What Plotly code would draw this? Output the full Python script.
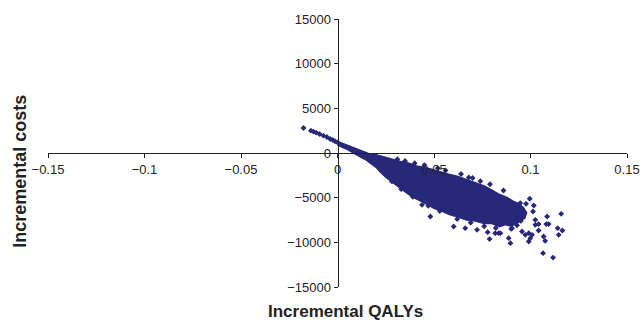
import plotly.graph_objects as go

NAVY = "#27287a"

# Dense core of the simulation cloud (outline)
core_x = [0.000, 0.004, 0.008, 0.012, 0.016, 0.020, 0.024, 0.028, 0.0325, 0.037, 0.041, 0.046, 0.050, 0.054, 0.058,
          0.062, 0.067, 0.071, 0.076, 0.080, 0.084, 0.088, 0.091, 0.094, 0.0965, 0.098, 0.097, 0.094,
          0.090, 0.087, 0.084, 0.080, 0.076, 0.071, 0.067, 0.062, 0.058, 0.054, 0.050, 0.046, 0.043,
          0.039, 0.036, 0.033, 0.030, 0.027, 0.025, 0.022, 0.020, 0.017, 0.015, 0.012, 0.010, 0.007, 0.005, 0.002, 0.000]
core_y = [1300, 950, 600, 250, -50, -200, -450, -650, -950, -1150, -1450, -1650, -1870, -2150, -2400,
          -2600, -3000, -3300, -3700, -4150, -4650, -5000, -5400, -5700, -6150, -6700, -7300, -7700,
          -8200, -8000, -8250, -7900, -7900, -7600, -7500, -7150, -6900, -6500, -6200, -5700, -5400,
          -4950, -4500, -4000, -3500, -3050, -2700, -2100, -1600, -1150, -800, -450, -200, 100, 400, 700, 900]

# Individual simulations visible outside the dense core
pts_x = [-0.0176, -0.0138, -0.0124, -0.0110, -0.0093, -0.0073, -0.0055, -0.0038, -0.0024, -0.0012, 0.0000,
         0.0282, 0.0438, 0.0481, 0.0602, 0.0662, 0.0723, 0.0778, 0.0844, 0.0680, 0.0576,
         0.0996, 0.0947, 0.0977, 0.1017, 0.1013, 0.1159, 0.1086, 0.0965, 0.1025, 0.1042, 0.1082, 0.1094,
         0.1141, 0.1165, 0.1146, 0.1042, 0.1068, 0.1076, 0.0991, 0.0999, 0.0991, 0.0973, 0.1008, 0.0956,
         0.0904, 0.0887, 0.0896, 0.0788, 0.0817, 0.0835, 0.1065, 0.1117, 0.0930, 0.0933, 0.1025,
         0.0310, 0.0350, 0.0400, 0.0450, 0.0520, 0.0560, 0.0640, 0.0700, 0.0740, 0.0790, 0.0860,
         0.0330, 0.0390, 0.0470, 0.0530, 0.0620, 0.0690, 0.0760, 0.0820, 0.0900, 0.0930, 0.0950]
pts_y = [2800, 2500, 2390, 2280, 2130, 1940, 1790, 1570, 1460, 1300, 1190,
         -3180, -5800, -7110, -8230, -8410, -8600, -8860, -8970, -2740, -4300,
         -5125, -5610, -5690, -5880, -6550, -6810, -7110, -6730, -8040, -7960, -7960, -7960,
         -8410, -8680, -9160, -8680, -9350, -9840, -8970, -9530, -9910, -9160, -9160, -8790,
         -8410, -9530, -10090, -9640, -8970, -8970, -11210, -11710, -7670, -7030, -7480,
         -700, -900, -1150, -1350, -1700, -1950, -2350, -2800, -3150, -3500, -4200,
         -4050, -4900, -5900, -6500, -7400, -7800, -8200, -8400, -8500, -8100, -7600]

x_ticks = [-0.15, -0.1, -0.05, 0, 0.05, 0.1, 0.15]
x_labels = ["\u22120.15", "\u22120.1", "\u22120.05", "0", "0.05", "0.1", "0.15"]
y_ticks = [-15000, -10000, -5000, 0, 5000, 10000, 15000]
y_labels = ["\u221215000", "\u221210000", "\u22125000", "0", "5000", "10000", "15000"]

FONT = "Liberation Sans, Arial, sans-serif"

fig = go.Figure()
fig.add_trace(go.Scatter(x=core_x, y=core_y, mode="lines", fill="toself",
                         fillcolor=NAVY, line=dict(color=NAVY, width=1.5),
                         hoverinfo="skip", showlegend=False))
fig.add_trace(go.Scatter(x=pts_x, y=pts_y, mode="markers",
                         marker=dict(symbol="diamond", size=4.5, color=NAVY, line=dict(width=0)),
                         showlegend=False))

axis_common = dict(showgrid=False, zeroline=False, showline=True, linecolor="#222222", linewidth=1,
                   ticks="outside", ticklen=4, tickcolor="#222222", tickwidth=1, automargin=False,
                   tickfont=dict(family=FONT, size=13, color="#222222"), anchor="free", position=0.5)

fig.update_xaxes(range=[-0.15, 0.15], tickvals=x_ticks, ticktext=x_labels, **axis_common)
fig.update_yaxes(range=[-15000, 15000], tickvals=y_ticks, ticktext=y_labels, **axis_common)

fig.add_annotation(text="<b>Incremental QALYs</b>", xref="paper", yref="paper",
                   x=0.513, y=-0.09, xanchor="center", yanchor="middle", showarrow=False,
                   font=dict(family=FONT, size=17, color="#222222"))
fig.add_annotation(text="<b>Incremental costs</b>", xref="paper", yref="paper",
                   x=-0.048, y=0.431, xanchor="center", yanchor="middle", textangle=-90, showarrow=False,
                   font=dict(family=FONT, size=18, color="#222222"))

fig.update_layout(width=643, height=320, margin=dict(l=48, r=16, t=19, b=33),
                  paper_bgcolor="white", plot_bgcolor="white")

fig.write_html("out.html", config={"displayModeBar": False},
               post_script="document.body.style.margin='0';document.body.style.padding='0';")
